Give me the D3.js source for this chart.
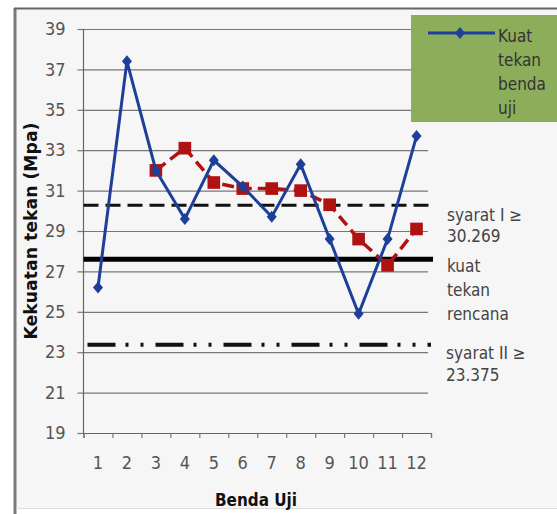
<!DOCTYPE html>
<html>
<head>
<meta charset="utf-8">
<script src="https://cdn.jsdelivr.net/npm/d3@7"></script>
<style>
  body { margin: 0; background: #fff; }
  .narrow { font-family: "Liberation Sans Narrow", "DejaVu Sans Condensed", "Arial Narrow", sans-serif; }
  .bold { font-family: "DejaVu Sans", Verdana, sans-serif; font-weight: bold; }
</style>
</head>
<body>
<svg id="chart" width="557" height="514"></svg>
<script>
// Test specimens (benda uji) and their compressive strength in MPa
const benda = [1, 2, 3, 4, 5, 6, 7, 8, 9, 10, 11, 12];
const kuatTekan = [26.2, 37.4, 32.0, 29.6, 32.5, 31.2, 29.7, 32.3, 28.6, 24.9, 28.6, 33.7];
// Running mean of three consecutive specimens (starts at specimen 3)
const rataTiga = [null, null, 32.0, 33.1, 31.4, 31.1, 31.1, 31.0, 30.3, 28.6, 27.3, 29.1];
const yTicks = [19, 21, 23, 25, 27, 29, 31, 33, 35, 37, 39];
// Reference levels: requirement I, design strength, requirement II
const syaratI = 30.269;
const kuatRencana = 27.6;
const syaratII = 23.375;

const svg = d3.select("#chart");

// Chart frame
svg.append("rect").attr("x", 14).attr("y", 8).attr("width", 543).attr("height", 500)
  .attr("fill", "#f6f6f6");
svg.append("line").attr("x1", 15).attr("x2", 15).attr("y1", 8).attr("y2", 514)
  .attr("stroke", "#7a7a7a").attr("stroke-width", 3);
svg.append("line").attr("x1", 14).attr("x2", 557).attr("y1", 8.5).attr("y2", 8.5)
  .attr("stroke", "#666").attr("stroke-width", 2);
svg.append("line").attr("x1", 16).attr("x2", 557).attr("y1", 508.5).attr("y2", 508.5)
  .attr("stroke", "#dcdcdc").attr("stroke-width", 1);

const plotL = 83.5, plotR = 431, plotT = 29, plotB = 433;

const x = d3.scaleBand().domain(benda).range([plotL, plotR]);
const xEdge = d3.scaleLinear().domain([0, benda.length]).range([plotL, plotR]);
const y = d3.scaleLinear().domain([19, 39]).range([plotB, plotT]);

// Horizontal gridlines and left axis
const yAxis = svg.append("g").attr("transform", `translate(${plotL},0)`)
  .call(d3.axisLeft(y).tickValues(yTicks).tickSize(-(plotR - 3 - plotL)).tickPadding(18).tickFormat(d3.format("d")));
yAxis.select(".domain").remove();
yAxis.selectAll(".tick line").attr("stroke", "#777").attr("stroke-width", 1.2);
yAxis.selectAll(".tick").append("line").attr("x1", -6).attr("x2", 0)
  .attr("stroke", "#777").attr("stroke-width", 1.2);
yAxis.selectAll(".tick text").attr("class", "narrow").attr("font-size", 18).attr("fill", "#555");

svg.append("line").attr("x1", plotL).attr("x2", plotL).attr("y1", plotT).attr("y2", plotB)
  .attr("stroke", "#666").attr("stroke-width", 1.2);

// Bottom axis: boundary ticks plus centred category labels
const xTicks = svg.append("g").attr("transform", `translate(0,${plotB})`)
  .call(d3.axisBottom(xEdge).tickValues(d3.range(0, benda.length + 1)).tickSize(5).tickFormat(""));
xTicks.select(".domain").attr("stroke", "#666").attr("stroke-width", 1.2);
xTicks.selectAll(".tick line").attr("stroke", "#777").attr("stroke-width", 1.2);

const xAxis = svg.append("g").attr("transform", `translate(0,${plotB})`)
  .call(d3.axisBottom(x).tickSize(0).tickPadding(23));
xAxis.select(".domain").remove();
xAxis.selectAll(".tick text").attr("class", "narrow").attr("font-size", 18).attr("fill", "#555");

// Reference levels
svg.append("line").attr("x1", plotL).attr("x2", plotR).attr("y1", y(syaratI)).attr("y2", y(syaratI))
  .attr("stroke", "#111").attr("stroke-width", 3).attr("stroke-dasharray", "15 7");
svg.append("line").attr("x1", plotL).attr("x2", plotR + 2).attr("y1", y(kuatRencana)).attr("y2", y(kuatRencana))
  .attr("stroke", "#000").attr("stroke-width", 5);
svg.append("line").attr("x1", plotL + 4).attr("x2", plotR).attr("y1", y(syaratII)).attr("y2", y(syaratII))
  .attr("stroke", "#111").attr("stroke-width", 4).attr("stroke-dasharray", "28 10 3 12 3 12");

// Three-specimen mean: dashed red with square markers
const rataPts = benda.map((b, i) => ({ b, v: rataTiga[i] })).filter(d => d.v !== null);
svg.append("path").datum(rataPts)
  .attr("fill", "none").attr("stroke", "#b01212").attr("stroke-width", 3.5)
  .attr("stroke-dasharray", "12 6")
  .attr("d", d3.line().x(d => x(d.b) + x.bandwidth() / 2).y(d => y(d.v)));
svg.append("g").selectAll("path").data(rataPts).join("path")
  .attr("transform", d => `translate(${x(d.b) + x.bandwidth() / 2},${y(d.v)})`)
  .attr("d", d3.symbol(d3.symbolSquare, 160))
  .attr("fill", "#b01212");

// Individual specimen strength: blue line with diamond markers
const kuatPts = benda.map((b, i) => ({ b, v: kuatTekan[i] }));
svg.append("path").datum(kuatPts)
  .attr("fill", "none").attr("stroke", "#1d3f9a").attr("stroke-width", 3)
  .attr("d", d3.line().x(d => x(d.b) + x.bandwidth() / 2).y(d => y(d.v)));
const diamond = "M0,-6L5,0L0,6L-5,0Z";
svg.append("g").selectAll("path").data(kuatPts).join("path")
  .attr("transform", d => `translate(${x(d.b) + x.bandwidth() / 2},${y(d.v)})`)
  .attr("d", diamond)
  .attr("fill", "#1d3f9a");

// Labels for reference levels
const levelLabels = [
  { lines: ["syarat I \u2265", "30.269"], x: 447, y0: 221, dy: 21 },
  { lines: ["kuat", "tekan", "rencana"], x: 447, y0: 272, dy: 24 },
  { lines: ["syarat II \u2265", "23.375"], x: 446, y0: 359, dy: 22 }
];
levelLabels.forEach(l => {
  const t = svg.append("text").attr("class", "narrow").attr("font-size", 17).attr("fill", "#444");
  l.lines.forEach((s, i) => t.append("tspan").attr("x", l.x).attr("y", l.y0 + i * l.dy).text(s));
});

// Legend
svg.append("rect").attr("x", 411).attr("y", 15).attr("width", 146).attr("height", 107).attr("fill", "#8cae5b");
svg.append("line").attr("x1", 428).attr("x2", 495).attr("y1", 33).attr("y2", 33)
  .attr("stroke", "#1d3f9a").attr("stroke-width", 3);
svg.append("path").attr("transform", "translate(460,33)").attr("d", diamond).attr("fill", "#1d3f9a");
const legText = svg.append("text").attr("class", "narrow").attr("font-size", 17).attr("fill", "#333");
["Kuat", "tekan", "benda", "uji"].forEach((s, i) =>
  legText.append("tspan").attr("x", 498).attr("y", 42 + i * 24).text(s));

// Axis titles
svg.append("text").attr("class", "bold").attr("font-size", 17).attr("fill", "#111")
  .attr("text-anchor", "middle")
  .attr("transform", "translate(37,231) rotate(-90)")
  .attr("textLength", 217).attr("lengthAdjust", "spacingAndGlyphs")
  .text("Kekuatan tekan (Mpa)");
svg.append("text").attr("class", "bold").attr("font-size", 17).attr("fill", "#111")
  .attr("text-anchor", "middle").attr("x", 256).attr("y", 506)
  .attr("textLength", 82).attr("lengthAdjust", "spacingAndGlyphs")
  .text("Benda Uji");
</script>
</body>
</html>
